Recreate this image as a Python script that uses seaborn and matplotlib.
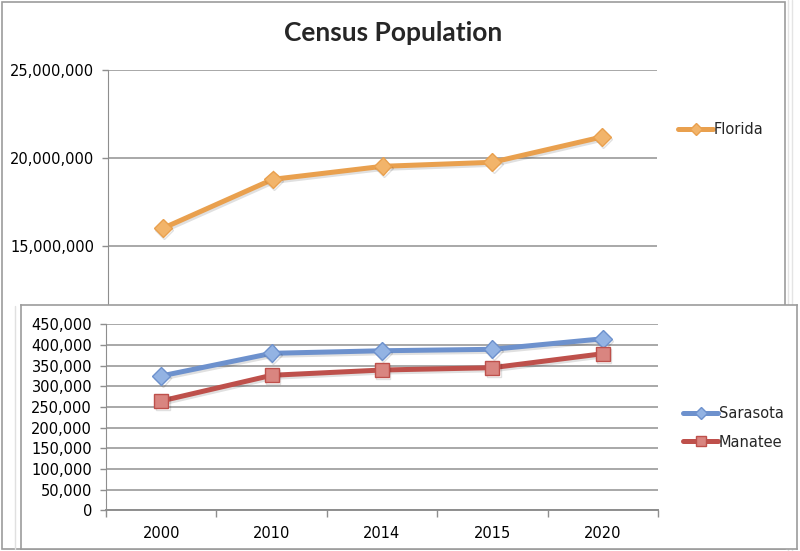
import matplotlib
matplotlib.use('Agg')
import matplotlib.pyplot as plt
import matplotlib.patheffects as pe
from matplotlib.patches import Rectangle
from matplotlib.lines import Line2D
from matplotlib.ticker import FixedLocator, FuncFormatter
import seaborn as sns
import pandas as pd

# ---- data ----
years = ['2000', '2010', '2014', '2015', '2020']
florida = [15990000, 18770000, 19510000, 19740000, 21180000]
sarasota = [325000, 379800, 386000, 389500, 415000]
manatee = [264400, 326600, 339400, 345000, 378900]
title = 'Census Population'
top_ticks = [15000000, 20000000, 25000000]
bottom_ticks = [0, 50000, 100000, 150000, 200000, 250000, 300000, 350000, 400000, 450000]

df = pd.DataFrame({'Year': years, 'Florida': florida,
                   'Sarasota': sarasota, 'Manatee': manatee})

W, H = 800, 551
sns.set_style('white')
plt.rcParams['font.family'] = ['DejaVu Sans']

fig = plt.figure(figsize=(8, 5.51), dpi=100)
fig.patch.set_facecolor('white')


def rect(x0, y0, x1, y1):
    return [x0 / W, 1 - y1 / H, (x1 - x0) / W, (y1 - y0) / H]


GRID = '#A8A8A8'
SPINE = '#8E8E8E'
TICKFS = 10.5

fl_c, fl_f = '#E9A04E', '#F2B46A'
sa_c, sa_f = '#6D91CD', '#93B3E3'
ma_c, ma_f = '#BE504B', '#D98580'

shadow = [pe.SimpleLineShadow(offset=(1.0, -1.5), shadow_color='k', alpha=0.12), pe.Normal()]

# outer frame of the first chart
frame = Rectangle((2 / W, 1 - 549 / H), 783 / W, 547 / H, transform=fig.transFigure,
                  facecolor='white', edgecolor='#9C9C9C', lw=1.2, zorder=0.1)
fig.add_artist(frame)
for xx in (788, 792):
    fig.add_artist(Line2D([xx / W, xx / W], [0, 1], transform=fig.transFigure,
                          color='#E4E4E4', lw=1, zorder=0.05))
fig.add_artist(Line2D([15 / W, 15 / W], [1 - 549 / H, 1 - 306 / H], transform=fig.transFigure,
                      color='#E0E0E0', lw=1, zorder=0.2))

fig.text(393 / W, 1 - 33 / H, title, ha='center', va='center',
         fontsize=19, fontweight='bold', family=['Lato', 'DejaVu Sans'])

# ---- top chart (Florida) ----
ax_top = fig.add_axes(rect(108, 69.7, 657, 333.7))
ax_top.set_zorder(1)
ax_top.set_facecolor('none')
sns.lineplot(data=df, x='Year', y='Florida', ax=ax_top, color=fl_c, linewidth=3.6,
             marker='D', markersize=9, markerfacecolor=fl_f, markeredgecolor=fl_c,
             markeredgewidth=1, path_effects=shadow, legend=False, zorder=3)
ax_top.set_xlim(-0.5, 4.5)
ax_top.set_ylim(10000000, 25000000)
ax_top.yaxis.set_major_locator(FixedLocator(top_ticks))
ax_top.yaxis.set_major_formatter(FuncFormatter(lambda v, p: f'{v:,.0f}'))
ax_top.yaxis.grid(True, color=GRID, lw=1.4)
ax_top.set_axisbelow(True)
for s in ('top', 'right', 'bottom'):
    ax_top.spines[s].set_visible(False)
ax_top.spines['left'].set_color(SPINE)
ax_top.tick_params(axis='y', left=True, length=4, width=1, color=SPINE, pad=6,
                   labelsize=TICKFS, labelcolor='black')
ax_top.tick_params(axis='x', bottom=False, labelbottom=False)
ax_top.set_xlabel('')
ax_top.set_ylabel('')
h_fl = [Line2D([], [], color=fl_c, lw=3.6, marker='D', ms=6, mfc=fl_f, mec=fl_c)]
ax_top.legend(h_fl, ['Florida'], loc='center left', bbox_to_anchor=(678 / W, 1 - 130 / H),
              bbox_transform=fig.transFigure, frameon=False, fontsize=TICKFS,
              handlelength=2.4, handletextpad=0.05, borderpad=0, borderaxespad=0)

# ---- bottom panel (Sarasota / Manatee) ----
ax_bg = fig.add_axes(rect(21, 305, 797, 549))
ax_bg.set_zorder(2)
ax_bg.set_facecolor('white')
ax_bg.set_xticks([])
ax_bg.set_yticks([])
for s in ax_bg.spines.values():
    s.set_color('#9C9C9C')
    s.set_linewidth(1.2)

ax_bot = fig.add_axes(rect(106, 324.3, 658, 510.3))
ax_bot.set_zorder(3)
ax_bot.set_facecolor('none')
sns.lineplot(data=df, x='Year', y='Sarasota', ax=ax_bot, color=sa_c, linewidth=3.6,
             marker='D', markersize=9, markerfacecolor=sa_f, markeredgecolor=sa_c,
             markeredgewidth=1, path_effects=shadow, legend=False, zorder=3)
sns.lineplot(data=df, x='Year', y='Manatee', ax=ax_bot, color=ma_c, linewidth=3.6,
             marker='s', markersize=10, markerfacecolor=ma_f, markeredgecolor=ma_c,
             markeredgewidth=1, path_effects=shadow, legend=False, zorder=3)
ax_bot.set_xlim(-0.5, 4.5)
ax_bot.set_ylim(0, 450000)
ax_bot.yaxis.set_major_locator(FixedLocator(bottom_ticks))
ax_bot.yaxis.set_major_formatter(FuncFormatter(lambda v, p: f'{v:,.0f}'))
ax_bot.yaxis.grid(True, color=GRID, lw=1.4)
ax_bot.set_axisbelow(True)
for s in ('top', 'right'):
    ax_bot.spines[s].set_visible(False)
for s in ('left', 'bottom'):
    ax_bot.spines[s].set_color(SPINE)
ax_bot.spines['bottom'].set_linewidth(1.4)
ax_bot.tick_params(axis='y', left=True, length=4, width=1, color=SPINE, pad=6,
                   labelsize=TICKFS, labelcolor='black')
ax_bot.xaxis.set_minor_locator(FixedLocator([-0.5, 0.5, 1.5, 2.5, 3.5, 4.5]))
ax_bot.tick_params(axis='x', which='major', bottom=True, length=0, pad=11,
                   labelsize=TICKFS, labelcolor='black')
ax_bot.tick_params(axis='x', which='minor', bottom=True, length=5, width=1, color=SPINE)
ax_bot.set_xlabel('')
ax_bot.set_ylabel('')
h_b = [Line2D([], [], color=sa_c, lw=3.6, marker='D', ms=6, mfc=sa_f, mec=sa_c),
       Line2D([], [], color=ma_c, lw=3.6, marker='s', ms=7, mfc=ma_f, mec=ma_c)]
ax_bot.legend(h_b, ['Sarasota', 'Manatee'], loc='center left',
              bbox_to_anchor=(683 / W, 1 - 428 / H), bbox_transform=fig.transFigure,
              frameon=False, fontsize=TICKFS, handlelength=2.4, handletextpad=0.05,
              labelspacing=0.9, borderpad=0, borderaxespad=0)

fig.savefig('out.png', dpi=100, facecolor='white')
